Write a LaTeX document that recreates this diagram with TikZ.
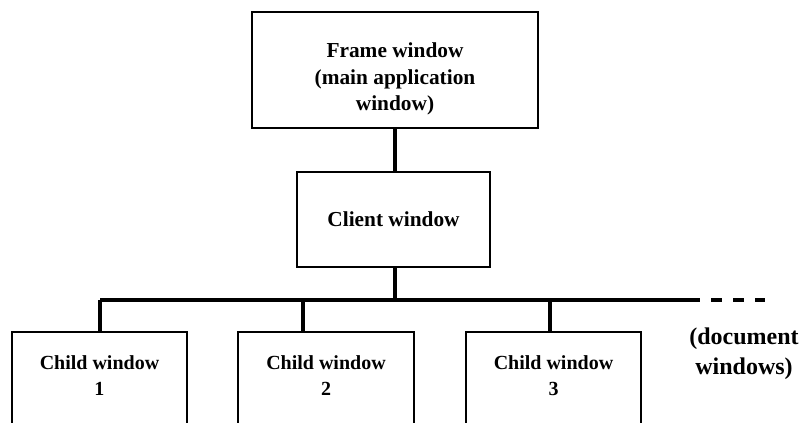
\documentclass[tikz,border=0pt]{standalone}
\usepackage{fontspec}
\setmainfont{Liberation Serif}
\usetikzlibrary{positioning}

\begin{document}
\begin{tikzpicture}[x=0.75pt, y=-0.75pt,
    winbox/.style={draw, line width=1.7pt, rectangle, inner sep=0pt},
    wintext/.style={font=\bfseries\fontsize{16}{20}\selectfont, align=center, inner sep=0pt},
    childtext/.style={font=\bfseries\fontsize{15}{20}\selectfont, align=center, inner sep=0pt},
    link/.style={line width=2.6pt}]
    %%%%% START %%%%%

    \useasboundingbox (0, 0) rectangle (801, 423);
    \clip (0, 0) rectangle (801, 423);

    % frame and client
    \node[winbox, minimum width=214.5pt, minimum height=87pt,
          label={[wintext, yshift=-6.75pt]center:{Frame window\\(main application\\window)}}] (frame) at (395, 70) {};
    \node[winbox, wintext, minimum width=144.75pt, minimum height=71.25pt] (client) at (393.5, 219.5) {Client window};

    % child windows
    \node[winbox, anchor=north, minimum width=131.25pt, minimum height=112.5pt,
          label={[childtext, anchor=north, yshift=-18pt]north:{Child window\\1}}] (child1) at (99.5, 331) {};
    \node[winbox, anchor=north, minimum width=132pt, minimum height=112.5pt,
          label={[childtext, anchor=north, yshift=-18pt]north:{Child window\\2}}] (child2) at (326, 331) {};
    \node[winbox, anchor=north, minimum width=131.25pt, minimum height=112.5pt,
          label={[childtext, anchor=north, yshift=-18pt]north:{Child window\\3}}] (child3) at (553.5, 331) {};

    \node[childtext, font=\bfseries\fontsize{18}{22.5}\selectfont] (docs) at (744, 354) {(document\\windows)};

    % bus
    \coordinate (busL) at (100, 300);
    \coordinate (busR) at (700, 300);
    \coordinate (busEnd) at (765, 300);
    \coordinate (drop2) at (303, 300);
    \coordinate (drop3) at (550, 300);

    \draw[link] (frame.south -| 395, 0) -- (client.north -| 395, 0);
    \draw[link] (client.south -| 395, 0) -- (busL -| 395, 0);
    \draw[link] (busL) -- (busR);
    \draw[link, dash pattern=on 8.25pt off 8.25pt, dash phase=8.25pt] (busR) -- (busEnd);

    \draw[link] (busL) -- (busL |- child1.north);
    \draw[link] (drop2) -- (drop2 |- child2.north);
    \draw[link] (drop3) -- (drop3 |- child3.north);

    %%%%% END %%%%%
\end{tikzpicture}
\end{document}
